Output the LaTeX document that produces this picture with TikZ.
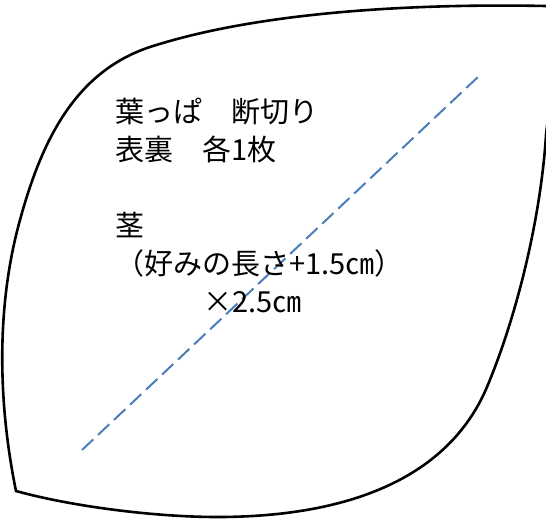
\documentclass[tikz,border=0pt]{standalone}
\usepackage{fontspec}
\newfontfamily\jpfont{Noto Sans CJK JP}
\definecolor{dashblue}{RGB}{74,126,187}
\tikzset{
  outline/.style={draw=black, line width=2.6pt, line join=miter},
  cutline/.style={draw=dashblue, line width=2pt, dash pattern=on 15.5pt off 6.5pt},
  txt/.style={anchor=base west, inner sep=0pt, outer sep=0pt, font=\jpfont\fontsize{29}{38}\selectfont}
}
\begin{document}
\begin{tikzpicture}[x=1pt,y=-1pt]
\useasboundingbox (0,0) rectangle (546,520);
\clip (0,0) rectangle (546,520);
\fill[white] (0,0) rectangle (546,520);
% leaf outline
\coordinate (c0) at (16,491);
\coordinate (c1) at (20,220);
\coordinate (c2) at (150,47);
\coordinate (c3) at (546,6);
\coordinate (tip) at (560,12);
\coordinate (c4) at (546,135);
\coordinate (c5) at (487,387);
\coordinate (c6) at (217,517);
\draw[outline] (c0)
  .. controls (-2,403) and (-4,306) .. (c1)
  .. controls (41,143) and (74,72) .. (c2)
  .. controls (264,10) and (426,3.6) .. (c3)
  -- (tip) -- (c4)
  .. controls (541,215) and (518,313) .. (c5)
  .. controls (448,479) and (347,517) .. (c6)
  .. controls (157,517) and (74,507) .. (c0) -- cycle;
% dashed cut line
\coordinate (d1) at (82,450);
\coordinate (d2) at (479,76);
\draw[cutline] (d1) -- (d2);
% texts
\node[txt] (t1) at (115,122) {葉っぱ　断切り};
\node[txt] (t2) at (115,160) {表裏　各1枚};
\node[txt] (t3) at (115,236) {茎};
\node[txt] (t4) at (115,274) {（好みの長さ+1.5㎝）};
\node[txt] (t5) at (203,312) {×2.5㎝};
\end{tikzpicture}
\end{document}
